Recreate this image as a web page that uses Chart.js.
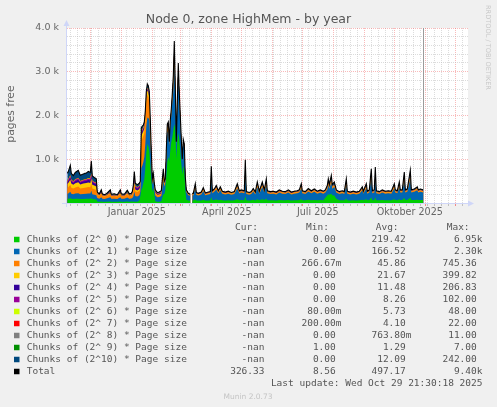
<!DOCTYPE html>
<html><head><meta charset="utf-8">
<script src="https://cdn.jsdelivr.net/npm/chart.js@4.4.1/dist/chart.umd.min.js"></script>
<style>html,body{margin:0;padding:0;background:#f0f0f0;overflow:hidden}canvas{display:block;width:497px;height:407px}</style>
</head><body><canvas id="c" width="497" height="407"></canvas>
<script>
// x values: days relative to 1 Jan 2025
const days = [-54,-53,-51,-50,-48,-46,-43,-41,-38,-35,-33,-31,-30,-29,-27,-25,
 -24,-22,-20,-19,-17,-15,-11,-10,-7,-4,-1,0,3,6,8,10,11,
 12,13,14,16,18,19,20,21,22,23,24,25,26,27,28,29,30,31,32,33,34,36,38,40,42,43,44,45,46,47,48,49,50,51,52,53,54,55,56,57,58,59,60,61,62,63,64,65,67,69,70,71,
 72,74,75,77,80,82,84,87,89,90,91,93,95,97,99,101,104,107,110,113,116,118,120,123,124,125,128,130,132,134,136,138,141,143,145,146,149,152,155,158,161,164,167,170,173,176,178,180,181,184,187,190,193,196,199,202,204,206,207,208,210,211,213,215,218,221,223,225,226,229,232,235,238,241,242,245,246,248,250,251,253,254,255,258,261,264,267,270,273,274,276,278,279,281,283,284,286,289,290,293,296,297,299,301.9];

const chunk0 = [95,100,110,95,90,95,100,90,90,95,95,95,110,90,85,80,
 35,30,35,30,28,30,35,28,30,28,35,30,28,34,30,32,35,
 30,35,30,30,60,150,300,350,450,550,800,1150,1350,1300,1200,850,550,250,350,200,40,30,30,40,
 200,200,300,600,950,1050,950,1200,1400,1500,1650,1800,1700,1000,1400,1600,1450,1150,900,650,850,750,300,80,60,55,null,60,
 55,84,58,55,60,74,57,60,62,130,65,70,80,65,76,63,60,63,58,62,
 84,65,68,65,148,62,58,62,72,60,88,63,88,68,95,65,62,63,60,68,
 63,62,68,60,63,65,68,84,65,62,72,65,70,63,68,63,120,170,200,190,
 210,180,170,100,62,65,62,95,63,60,63,60,63,76,63,84,63,68,124,65,
 68,128,65,62,68,63,65,63,84,68,65,88,68,68,115,68,70,120,68,70,
 76,68,70,68];
const chunk1 = [115,120,150,115,110,120,125,110,115,115,120,120,170,110,105,100,
 80,70,95,70,65,72,95,68,70,65,95,70,68,92,70,72,80,
 120,220,130,120,120,110,500,500,480,500,550,600,600,650,700,600,400,180,200,150,130,100,105,120,
 320,180,160,420,650,620,360,550,600,800,900,1400,800,330,750,1300,900,740,480,300,520,500,250,170,120,110,null,120,
 116,252,130,116,137,203,123,137,144,487,157,185,229,157,213,151,137,151,130,144,
 252,157,171,157,574,144,130,144,191,137,276,151,276,171,319,157,144,151,137,171,
 151,144,171,137,151,157,171,252,157,144,191,157,185,151,171,151,119,139,214,133,
 260,143,194,139,144,157,144,319,151,137,151,137,151,213,151,252,151,171,451,157,
 171,475,157,144,171,151,157,151,252,171,157,276,171,171,411,171,185,434,171,185,
 213,171,185,171];
const chunk2 = [130,140,160,140,130,140,150,130,140,145,150,145,170,130,125,120,
 70,60,80,60,55,58,80,58,60,55,80,60,58,78,60,62,72,
 110,170,110,100,100,90,600,620,600,550,500,550,520,480,420,250,120,50,50,40,50,45,45,50,
 100,50,40,80,100,100,50,80,90,130,250,300,100,40,100,200,100,70,40,25,40,50,25,25,20,18,null,20,
 20,35,22,20,22,30,21,22,23,55,25,28,32,25,30,24,22,24,22,23,
 35,25,26,25,62,23,22,23,28,22,37,24,37,26,40,25,23,24,22,26,
 24,23,26,22,24,25,26,35,25,23,28,25,28,24,26,24,26,32,40,34,
 44,34,37,26,23,25,23,40,24,22,24,22,24,30,24,35,24,26,52,25,
 26,54,25,23,26,24,25,24,35,26,25,37,26,26,48,26,28,50,26,28,
 30,26,28,26];
const chunk3 = [95,100,110,95,90,95,100,95,100,100,105,100,110,90,85,80,
 15,12,18,12,10,12,18,11,12,10,18,12,11,17,12,13,16,
 30,60,40,35,35,30,120,120,110,100,100,100,100,100,90,60,40,20,20,15,15,12,12,12,
 30,15,12,25,30,30,15,25,25,30,50,80,25,12,25,50,25,15,10,8,10,15,8,6,5,5,null,5,
 6,6,6,6,6,6,6,6,6,6,6,6,6,6,6,6,6,6,6,6,6,6,6,6,6,6,6,6,6,6,6,6,6,6,6,6,6,6,6,6,
 6,6,6,6,6,6,6,6,6,6,6,6,6,6,6,6,6,6,6,6,6,6,6,6,6,6,6,6,6,6,6,6,6,6,6,6,6,6,6,6,
 6,6,6,6,6,6,6,6,6,6,6,6,6,6,6,6,6,6,6,6,6,6,6,6];
const chunk4 = [40,45,55,45,40,50,55,40,45,50,55,55,65,50,45,45,
 8,6,10,6,5,6,10,6,6,5,10,6,6,9,6,7,10,
 25,50,40,40,40,35,50,50,45,40,35,30,30,30,30,25,20,10,10,10,20,18,20,20,
 20,12,8,10,12,12,8,10,10,10,12,15,8,5,8,10,8,5,4,3,4,5,3,4,3,3,null,3,
 4,4,4,4,4,4,4,4,4,4,4,4,4,4,4,4,4,4,4,4,4,4,4,4,4,4,4,4,4,4,4,4,4,4,4,4,4,4,4,4,
 4,4,4,4,4,4,4,4,4,4,4,4,4,4,4,4,4,4,4,4,4,4,4,4,4,4,4,4,4,4,4,4,4,4,4,4,4,4,4,4,
 4,4,4,4,4,4,4,4,4,4,4,4,4,4,4,4,4,4,4,4,4,4,4,4];
const chunk5 = [25,30,35,30,25,30,30,25,28,30,32,30,40,28,25,25,
 6,5,6,5,4,5,6,5,5,4,6,5,5,6,5,5,7,
 15,30,30,30,30,25,30,30,25,25,20,20,20,20,20,15,12,8,8,7,15,12,13,13,
 12,8,6,8,8,8,5,6,6,6,7,8,5,3,5,6,5,3,3,3,3,3,3,3,3,3,null,3,
 3,3,3,3,3,3,3,3,3,3,3,3,3,3,3,3,3,3,3,3,3,3,3,3,3,3,3,3,3,3,3,3,3,3,3,3,3,3,3,3,
 3,3,3,3,3,3,3,3,3,3,3,3,3,3,3,3,3,3,3,3,3,3,3,3,3,3,3,3,3,3,3,3,3,3,3,3,3,3,3,3,
 3,3,3,3,3,3,3,3,3,3,3,3,3,3,3,3,3,3,3,3,3,3,3,3];
const chunk6 = [8,8,9,8,7,8,8,7,8,8,8,8,10,7,7,7,
 3,3,3,3,3,3,3,3,3,3,3,3,3,3,3,3,3,
 5,8,6,6,6,6,10,10,10,10,10,10,10,10,10,8,6,4,4,4,4,3,3,3,
 5,4,3,4,5,5,3,4,4,4,5,5,4,3,4,5,4,3,3,3,3,3,3,3,3,2,null,3,
 3,3,3,3,3,3,3,3,3,3,3,3,3,3,3,3,3,3,3,3,3,3,3,3,3,3,3,3,3,3,3,3,3,3,3,3,3,3,3,3,
 3,3,3,3,3,3,3,3,3,3,3,3,3,3,3,3,3,3,3,3,3,3,3,3,3,3,3,3,3,3,3,3,3,3,3,3,3,3,3,3,
 3,3,3,3,3,3,3,3,3,3,3,3,3,3,3,3,3,3,3,3,3,3,3,3];
const chunk7 = [5,5,6,5,5,5,5,5,5,5,5,5,6,5,5,5,
 3,3,3,3,3,3,3,3,3,3,3,3,3,3,3,3,3,
 4,5,4,4,4,4,6,6,6,6,6,6,6,6,6,5,5,4,4,4,3,3,3,3,
 4,3,3,4,4,4,3,4,4,4,4,4,3,3,3,4,3,3,3,3,3,3,3,3,3,2,null,3,
 3,3,3,3,3,3,3,3,3,3,3,3,3,3,3,3,3,3,3,3,3,3,3,3,3,3,3,3,3,3,3,3,3,3,3,3,3,3,3,3,
 3,3,3,3,3,3,3,3,3,3,3,3,3,3,3,3,3,3,3,3,3,3,3,3,3,3,3,3,3,3,3,3,3,3,3,3,3,3,3,3,
 3,3,3,3,3,3,3,3,3,3,3,3,3,3,3,3,3,3,3,3,3,3,3,3];
const chunk8 = [3,3,4,3,3,3,3,3,3,3,3,3,4,3,3,3,
 1,1,1,1,1,1,1,1,1,1,1,1,1,1,1,1,1,
 2,3,2,2,2,2,3,3,3,3,3,3,3,3,3,3,2,2,2,2,1,1,1,1,
 2,1,1,2,2,2,1,2,2,2,2,2,1,1,1,2,1,1,1,1,1,1,1,1,1,1,null,1,
 1,1,1,1,1,1,1,1,1,1,1,1,1,1,1,1,1,1,1,1,1,1,1,1,1,1,1,1,1,1,1,1,1,1,1,1,1,1,1,1,
 1,1,1,1,1,1,1,1,1,1,1,1,1,1,1,1,1,1,1,1,1,1,1,1,1,1,1,1,1,1,1,1,1,1,1,1,1,1,1,1,
 1,1,1,1,1,1,1,1,1,1,1,1,1,1,1,1,1,1,1,1,1,1,1,1];
const chunk9 = [2,2,2,2,2,2,2,2,2,2,2,2,2,2,2,2,
 1,1,1,1,1,1,1,1,1,1,1,1,1,1,1,1,1,
 1,2,1,1,1,1,2,2,2,2,2,2,2,2,2,2,2,1,1,1,1,1,1,1,
 1,1,1,1,1,1,1,1,1,1,1,1,1,1,1,1,1,1,1,1,1,1,1,1,1,1,null,1,
 1,1,1,1,1,1,1,1,1,1,1,1,1,1,1,1,1,1,1,1,1,1,1,1,1,1,1,1,1,1,1,1,1,1,1,1,1,1,1,1,
 1,1,1,1,1,1,1,1,1,1,1,1,1,1,1,1,1,1,1,1,1,1,1,1,1,1,1,1,1,1,1,1,1,1,1,1,1,1,1,1,
 1,1,1,1,1,1,1,1,1,1,1,1,1,1,1,1,1,1,1,1,1,1,1,1];
const chunk10 = [160,165,220,140,125,150,170,125,125,130,145,135,270,105,95,85,
 28,19,48,19,15,19,48,16,19,15,48,19,16,46,19,21,32,
 58,137,57,52,52,47,99,69,49,65,74,79,79,79,69,82,38,21,31,17,21,15,17,17,
 86,26,16,46,38,18,4,18,8,13,19,85,3,2,3,22,3,9,5,3,15,19,3,4,1,0,null,1,
 8,48,9,8,10,22,8,10,10,147,12,16,38,12,30,11,10,11,9,10,
 48,12,14,12,185,10,9,10,18,10,58,11,58,14,75,12,10,11,10,14,
 11,10,14,10,11,12,14,48,12,10,18,12,16,11,14,11,14,38,75,42,
 95,42,58,14,10,12,10,75,11,10,11,10,11,30,11,48,11,14,132,12,
 14,142,12,10,14,11,12,11,48,14,12,58,14,14,115,14,16,125,14,16,
 30,14,16,14];

const seriesNames = ['Chunks of (2^ 0) * Page size','Chunks of (2^ 1) * Page size','Chunks of (2^ 2) * Page size',
 'Chunks of (2^ 3) * Page size','Chunks of (2^ 4) * Page size','Chunks of (2^ 5) * Page size',
 'Chunks of (2^ 6) * Page size','Chunks of (2^ 7) * Page size','Chunks of (2^ 8) * Page size',
 'Chunks of (2^ 9) * Page size','Chunks of (2^10) * Page size'];
const seriesColors = ['#00CC00','#0066B3','#FF8000','#FFCC00','#330099','#990099','#CCFF00','#FF0000','#808080','#008F00','#00487D'];
const seriesValues = [chunk0,chunk1,chunk2,chunk3,chunk4,chunk5,chunk6,chunk7,chunk8,chunk9,chunk10];

// legend statistics (as printed)
const curText = ['-nan','-nan','-nan','-nan','-nan','-nan','-nan','-nan','-nan','-nan','-nan','326.33'];
const minText = ['0.00','0.00','266.67m','0.00','0.00','0.00','80.00m','200.00m','0.00','1.00','0.00','8.56'];
const avgText = ['219.42','166.52','45.86','21.67','11.48','8.26','5.73','4.10','763.80m','1.29','12.09','497.17'];
const maxText = ['6.95k','2.30k','745.36','399.82','206.83','102.00','48.00','22.00','11.00','7.00','242.00','9.40k'];

// axis definitions
const xMin = -54.3, xMax = 346.7, nowDay = 301.9;
const monthStarts = [-31,0,31,59,90,120,151,181,212,243,273,304,334];
const firstMonday = -51;
const labelDays = [15.5,105.5,196.5,288.5];
const xLabels = ['Januar 2025','April 2025','Juli 2025','Oktober 2025'];
const yGrid = [0,200,400,600,800,1000,1200,1400,1600,1800,2000,2200,2400,2600,2800,3000,3200,3400,3600,3800,4000];
const yLabelValues = [1000,2000,3000,4000];
const yLabels = ['1.0 k','2.0 k','3.0 k','4.0 k'];

const totalValues = days.map((d,i)=>{
  if (chunk0[i]===null) return null;
  let s=0; seriesValues.forEach(a=>{ s+=a[i]; }); return s;
});

const kind = new Map();
for (let d = firstMonday; d <= xMax; d += 7) kind.set(d,'minor');
monthStarts.forEach(d=>kind.set(d,'major'));
labelDays.forEach(d=>kind.set(d,'label'));
const xTicks = Array.from(kind.keys()).sort((a,b)=>a-b);

const RED = 'rgba(240,90,90,0.42)', GREY = 'rgba(185,185,185,0.5)';

const datasets = seriesValues.map((vals,k)=>({
  label: seriesNames[k],
  data: days.map((d,i)=>({x:d,y:vals[i]})),
  backgroundColor: seriesColors[k],
  borderColor: seriesColors[k],
  borderWidth: 0,
  fill: 'origin',
  pointRadius: 0,
  tension: 0,
  stack: 'chunks',
  order: 1
}));
datasets.push({
  label: 'Total',
  data: days.map((d,i)=>({x:d,y:totalValues[i]})),
  borderColor: '#000', backgroundColor:'#000', borderWidth: 1.1,
  fill: false, pointRadius: 0, tension: 0, stack: 'total', order: 0
});

const deco = {
  id: 'deco',
  beforeDraw(chart){
    const {ctx, chartArea:a} = chart;
    ctx.save();
    ctx.fillStyle = '#f0f0f0'; ctx.fillRect(0,0,chart.width,chart.height);
    ctx.fillStyle = '#ffffff'; ctx.fillRect(a.left,a.top,a.right-a.left,a.bottom-a.top);
    ctx.restore();
  },
  afterDraw(chart){
    const {ctx, chartArea:a} = chart;
    const xs = chart.scales.x;
    ctx.save();
    // now rule
    const vx = Math.round(xs.getPixelForValue(nowDay)) + 0.5;
    ctx.strokeStyle = '#9a9a9a'; ctx.lineWidth = 1;
    ctx.beginPath(); ctx.moveTo(vx, a.top); ctx.lineTo(vx, a.bottom); ctx.stroke();
    // axes
    ctx.strokeStyle = '#CFD6F8'; ctx.fillStyle = '#CFD6F8';
    ctx.beginPath(); ctx.moveTo(62, a.bottom+0.5); ctx.lineTo(a.right+1, a.bottom+0.5); ctx.stroke();
    ctx.beginPath(); ctx.moveTo(a.left-0.5, a.bottom+4); ctx.lineTo(a.left-0.5, a.top-2); ctx.stroke();
    ctx.beginPath(); ctx.moveTo(a.right, a.bottom-2.5); ctx.lineTo(a.right, a.bottom+3.5); ctx.lineTo(a.right+6, a.bottom+0.5); ctx.closePath(); ctx.fill();
    ctx.beginPath(); ctx.moveTo(a.left-3.5, a.top-2); ctx.lineTo(a.left+2.5, a.top-2); ctx.lineTo(a.left-0.5, a.top-8); ctx.closePath(); ctx.fill();
    // title
    ctx.fillStyle = '#555';
    ctx.font = '12.5px "DejaVu Sans"'; ctx.textAlign = 'center'; ctx.textBaseline = 'middle';
    ctx.fillText('Node 0, zone HighMem - by year', 248.5, 20);
    // y title
    ctx.save(); ctx.translate(11.5,114); ctx.rotate(-Math.PI/2);
    ctx.fillStyle = '#666'; ctx.font = '10.8px "DejaVu Sans"'; ctx.fillText('pages free',0,0); ctx.restore();
    // watermark
    ctx.save(); ctx.translate(487.5,5); ctx.rotate(Math.PI/2);
    ctx.fillStyle = '#c8c8c8'; ctx.font = '6.6px "DejaVu Sans"'; ctx.textAlign='left'; ctx.textBaseline='middle';
    ctx.fillText('RRDTOOL / TOBI OETIKER',0,0); ctx.restore();
    // legend
    ctx.font = '9.5px "DejaVu Sans Mono"'; ctx.textBaseline = 'middle'; ctx.fillStyle = '#555';
    ctx.textAlign = 'left';
    ctx.fillText('Cur:',235,228); ctx.fillText('Min:',306,228); ctx.fillText('Avg:',375.7,228); ctx.fillText('Max:',446.7,228);
    const names = seriesNames.concat(['Total']);
    const cols = seriesColors.concat(['#000000']);
    const pad = s => /[km]$/.test(s) ? s : s + ' ';
    names.forEach((n,k)=>{
      const y = 239.5 + 12*k;
      ctx.fillStyle = cols[k]; ctx.fillRect(14, y-2.75, 5.5, 5.5);
      ctx.fillStyle = '#555'; ctx.textAlign = 'left';
      ctx.fillText(n, 26.7, y);
      ctx.textAlign = 'right';
      ctx.fillText(curText[k], 264.5, y);
      ctx.fillText(pad(minText[k]), 341.5, y);
      ctx.fillText(pad(avgText[k]), 411.5, y);
      ctx.fillText(pad(maxText[k]), 482.5, y);
    });
    ctx.textAlign = 'right';
    ctx.fillText('Last update: Wed Oct 29 21:30:18 2025', 482.5, 383.5);
    ctx.textAlign = 'center'; ctx.fillStyle = '#c4c4c4'; ctx.font = '7.5px "DejaVu Sans"';
    ctx.fillText('Munin 2.0.73', 248, 397);
    ctx.restore();
  }
};

new Chart(document.getElementById('c'), {
  type: 'line',
  data: { datasets },
  plugins: [deco],
  options: {
    responsive: false, animation: false, devicePixelRatio: 1,
    layout: { padding: { left: 0, top: 28, right: 29, bottom: 180 } },
    plugins: { legend: { display: false }, tooltip: { enabled: false }, title: { display: false } },
    elements: { line: { tension: 0 }, point: { radius: 0 } },
    scales: {
      x: {
        type: 'linear', min: xMin, max: xMax,
        afterFit(s){ s.height = 24; },
        afterBuildTicks(s){ s.ticks = xTicks.map(v=>({value:v})); },
        ticks: {
          autoSkip: false, maxRotation: 0, minRotation: 0, padding: 1,
          color: '#666', font: { family: 'DejaVu Sans', size: 9.6 },
          callback: (v)=>{ const i = labelDays.indexOf(v); return i>=0 ? xLabels[i] : ''; }
        },
        grid: {
          color: c => { const k = kind.get(c.tick && c.tick.value); return k==='major' ? RED : (k==='minor' ? GREY : 'rgba(0,0,0,0)'); },
          tickColor: c => { const k = kind.get(c.tick && c.tick.value); return k==='major' ? 'rgba(240,90,90,0.7)' : (k==='minor' ? 'rgba(170,170,170,0.7)' : 'rgba(0,0,0,0)'); },
          tickLength: 3, lineWidth: 1
        },
        border: { display: false, dash: [1,1] }
      },
      y: {
        stacked: true, min: 0, max: 4000,
        afterFit(s){ s.width = 67; },
        afterBuildTicks(s){ s.ticks = yGrid.map(v=>({value:v})); },
        ticks: {
          autoSkip: false, padding: 8, color: '#666', font: { family: 'DejaVu Sans', size: 9.5 },
          callback: (v)=>{ const i = yLabelValues.indexOf(v); return i>=0 ? yLabels[i] : ''; }
        },
        grid: {
          color: c => (c.tick && c.tick.value % 1000 === 0) ? RED : GREY,
          drawTicks: false, lineWidth: 1
        },
        border: { display: false, dash: [1,1] }
      }
    }
  }
});
</script></body></html>
